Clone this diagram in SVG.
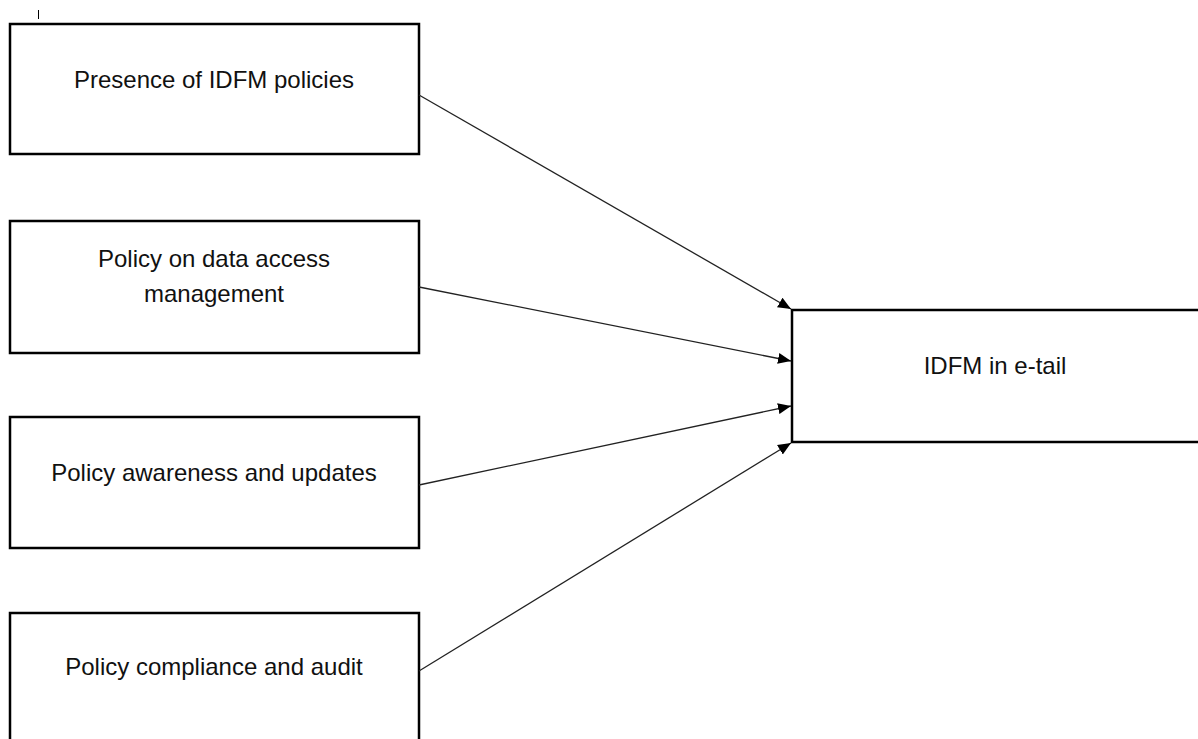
<svg xmlns="http://www.w3.org/2000/svg" width="1198" height="739" viewBox="0 0 1198 739">
<style>
.box{fill:#fff;stroke:#000;stroke-width:2.5}
.lbl{font-family:"Liberation Sans",Arial,sans-serif;font-size:24px;fill:#111;text-anchor:middle}
.conn{stroke:#222;stroke-width:1.3;fill:none;marker-end:url(#arr)}
</style>
<defs>
<marker id="arr" markerUnits="userSpaceOnUse" markerWidth="14" markerHeight="12" refX="13" refY="6" orient="auto">
<path d="M0,0.5 L13,6 L0,11.5 z" fill="#000"/>
</marker>
</defs>
<rect width="1198" height="739" fill="#fff"/>
<line x1="38.5" y1="10" x2="38.5" y2="19" stroke="#000" stroke-width="1"/>
<g id="n1"><rect class="box" x="10" y="24" width="409" height="130"/><text class="lbl" x="214" y="88">Presence of IDFM policies</text></g>
<g id="n2"><rect class="box" x="10" y="221" width="409" height="132"/><text class="lbl" x="214" y="267">Policy on data access</text><text class="lbl" x="214" y="302">management</text></g>
<g id="n3"><rect class="box" x="10" y="417" width="409" height="131"/><text class="lbl" x="214" y="481">Policy awareness and updates</text></g>
<g id="n4"><rect class="box" x="10" y="613" width="409" height="140"/><text class="lbl" x="214" y="675">Policy compliance and audit</text></g>
<g id="n5"><rect class="box" x="792" y="310" width="412" height="132"/><text class="lbl" x="995" y="374">IDFM in e-tail</text></g>
<g id="connectors">
<line class="conn" x1="419" y1="95" x2="791" y2="309"/>
<line class="conn" x1="419" y1="287" x2="791" y2="361"/>
<line class="conn" x1="419" y1="485" x2="791" y2="406"/>
<line class="conn" x1="419" y1="671" x2="791" y2="443"/>
</g>
</svg>
